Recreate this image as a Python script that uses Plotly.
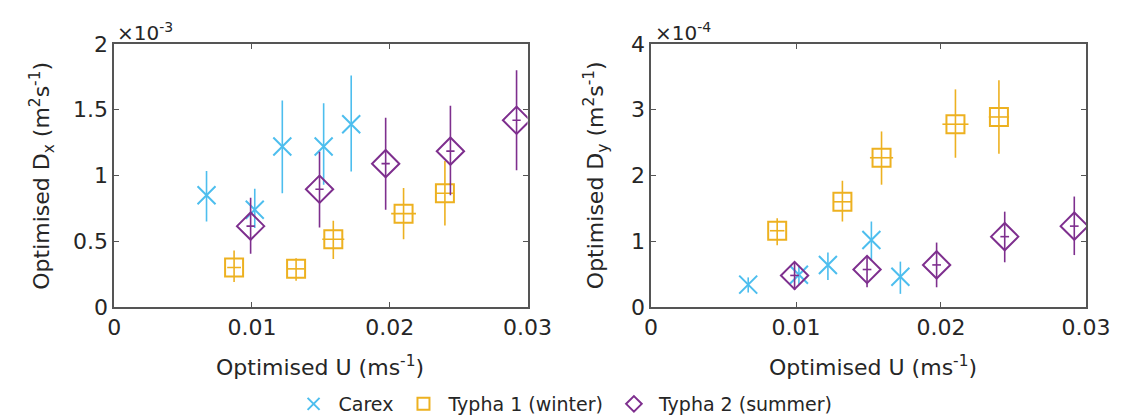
import plotly.graph_objects as go

# ---- data (U in m/s; Dx in 1e-3 m2/s; Dy in 1e-4 m2/s) ----
carex_u = [0.0067, 0.0102, 0.0122, 0.0152, 0.0172]
carex_dx = [0.85, 0.74, 1.22, 1.22, 1.39]
carex_dx_hi = [1.035, 0.90, 1.57, 1.55, 1.76]
carex_dx_lo = [0.65, 0.60, 0.865, 0.93, 1.03]
carex_dy = [0.34, 0.49, 0.64, 1.02, 0.46]
carex_dy_hi = [0.45, 0.63, 0.83, 1.30, 0.69]
carex_dy_lo = [0.22, 0.35, 0.41, 0.70, 0.20]
carex_uerr = [0.0, 0.0, 0.0, 0.0, 0.0]

t1_u = [0.0087, 0.0132, 0.0159, 0.0210, 0.0240]
t1_dx = [0.30, 0.29, 0.515, 0.71, 0.865]
t1_dx_hi = [0.43, 0.37, 0.655, 0.905, 1.11]
t1_dx_lo = [0.19, 0.20, 0.365, 0.515, 0.62]
t1_dy = [1.16, 1.60, 2.27, 2.78, 2.89]
t1_dy_hi = [1.35, 1.92, 2.67, 3.31, 3.45]
t1_dy_lo = [0.94, 1.30, 1.86, 2.27, 2.33]
t1_uerr = [0.0005, 0.0006, 0.0008, 0.0009, 0.0007]

t2_u = [0.0099, 0.0149, 0.0197, 0.0244, 0.0292]
t2_dx = [0.615, 0.895, 1.09, 1.185, 1.42]
t2_dx_hi = [0.83, 1.18, 1.44, 1.53, 1.80]
t2_dx_lo = [0.405, 0.605, 0.74, 0.85, 1.04]
t2_dy = [0.48, 0.57, 0.64, 1.07, 1.23]
t2_dy_hi = [0.68, 0.78, 0.98, 1.45, 1.68]
t2_dy_lo = [0.26, 0.30, 0.30, 0.68, 0.79]
t2_uerr = [0.0003, 0.0003, 0.0003, 0.0003, 0.0003]

x_ticks = [0, 0.01, 0.02, 0.03]
x_ticktext = ["0", "0.01", "0.02", "0.03"]
dx_ticks = [0, 0.5, 1, 1.5, 2]
dx_ticktext = ["0", "0.5", "1", "1.5", "2"]
dy_ticks = [0, 1, 2, 3, 4]
dy_ticktext = ["0", "1", "2", "3", "4"]

C_CAREX = "#4DBEEE"
C_T1 = "#EDB120"
C_T2 = "#7E2F8E"
FONT = "DejaVu Sans"
TXT = "#262626"
W, H = 1133, 415
TOP, BOT = 36, 303
PH = BOT - TOP

series = [
    ("Carex", carex_u, carex_uerr, carex_dx, carex_dx_hi, carex_dx_lo,
     carex_dy, carex_dy_hi, carex_dy_lo, C_CAREX, "x-thin-open", 18),
    ("Typha 1 (winter)", t1_u, t1_uerr, t1_dx, t1_dx_hi, t1_dx_lo,
     t1_dy, t1_dy_hi, t1_dy_lo, C_T1, "square-open", 18),
    ("Typha 2 (summer)", t2_u, t2_uerr, t2_dx, t2_dx_hi, t2_dx_lo,
     t2_dy, t2_dy_hi, t2_dy_lo, C_T2, "diamond-open", 21),
]

fig = go.Figure()
for name, u, ue, dx, dxh, dxl, dy, dyh, dyl, col, sym, size in series:
    for panel in (1, 2):
        yv, yh, yl = (dx, dxh, dxl) if panel == 1 else (dy, dyh, dyl)
        fig.add_trace(go.Scatter(
            x=u, y=yv, mode="markers", name=name,
            showlegend=(panel == 1), legendgroup=name,
            xaxis="x" if panel == 1 else "x2",
            yaxis="y" if panel == 1 else "y2",
            marker=dict(symbol=sym, size=size, color=col,
                        line=dict(color=col, width=2)),
            error_y=dict(type="data", symmetric=False,
                         array=[h - v for h, v in zip(yh, yv)],
                         arrayminus=[v - l for v, l in zip(yv, yl)],
                         color=col, thickness=1.6, width=0),
            error_x=dict(type="data", array=ue, color=col,
                         thickness=1.6, width=0),
        ))

axis_common = dict(
    showline=True, linecolor="#555555", linewidth=1.5, mirror="allticks",
    ticks="inside", ticklen=5, tickcolor="#555555", showgrid=False,
    zeroline=False, tickfont=dict(family=FONT, size=22, color=TXT),
)

fig.update_layout(
    width=W, height=H,
    margin=dict(l=0, r=0, t=TOP, b=H - BOT),
    paper_bgcolor="white", plot_bgcolor="white",
    font=dict(family=FONT, color=TXT),
    xaxis=dict(domain=[102 / W, 527 / W], range=[0, 0.03],
               tickvals=x_ticks, ticktext=x_ticktext, anchor="y",
               **axis_common),
    yaxis=dict(domain=[0, 1], range=[0, 2], tickvals=dx_ticks,
               ticktext=dx_ticktext, anchor="x", **axis_common),
    xaxis2=dict(domain=[654 / W, 1101 / W], range=[0, 0.03],
                tickvals=x_ticks, ticktext=x_ticktext, anchor="y2",
                **axis_common),
    yaxis2=dict(domain=[0, 1], range=[0, 4], tickvals=dy_ticks,
                ticktext=dy_ticktext, anchor="x2", **axis_common),
    legend=dict(orientation="h", x=564 / W, xanchor="center",
                y=(BOT - 402) / PH, yanchor="middle",
                font=dict(family=FONT, size=19, color=TXT),
                itemwidth=40,
                itemsizing="constant", bgcolor="rgba(0,0,0,0)"),
)

ann = [
    dict(text="Optimised D<sub>x</sub> (m<sup>2</sup>s<sup>-1</sup>)",
         x=27 / W, y=0.5, textangle=-90),
    dict(text="Optimised D<sub>y</sub> (m<sup>2</sup>s<sup>-1</sup>)",
         x=597 / W, y=0.5, textangle=-90),
    dict(text="Optimised U (ms<sup>-1</sup>)", x=314 / W,
         y=(BOT - 363) / PH),
    dict(text="Optimised U (ms<sup>-1</sup>)", x=882 / W,
         y=(BOT - 363) / PH),
]
for a in ann:
    fig.add_annotation(xref="paper", yref="paper", showarrow=False,
                       xanchor="center", yanchor="middle",
                       font=dict(family=FONT, size=22, color=TXT), **a)

for xp, txt in ((103 / W, "×10<sup>-3</sup>"), (656 / W, "×10<sup>-4</sup>")):
    fig.add_annotation(xref="paper", yref="paper", x=xp, y=1.0,
                       xanchor="left", yanchor="bottom", showarrow=False,
                       yshift=-3, text=txt,
                       font=dict(family=FONT, size=20, color=TXT))

fig.write_html("out.html")
